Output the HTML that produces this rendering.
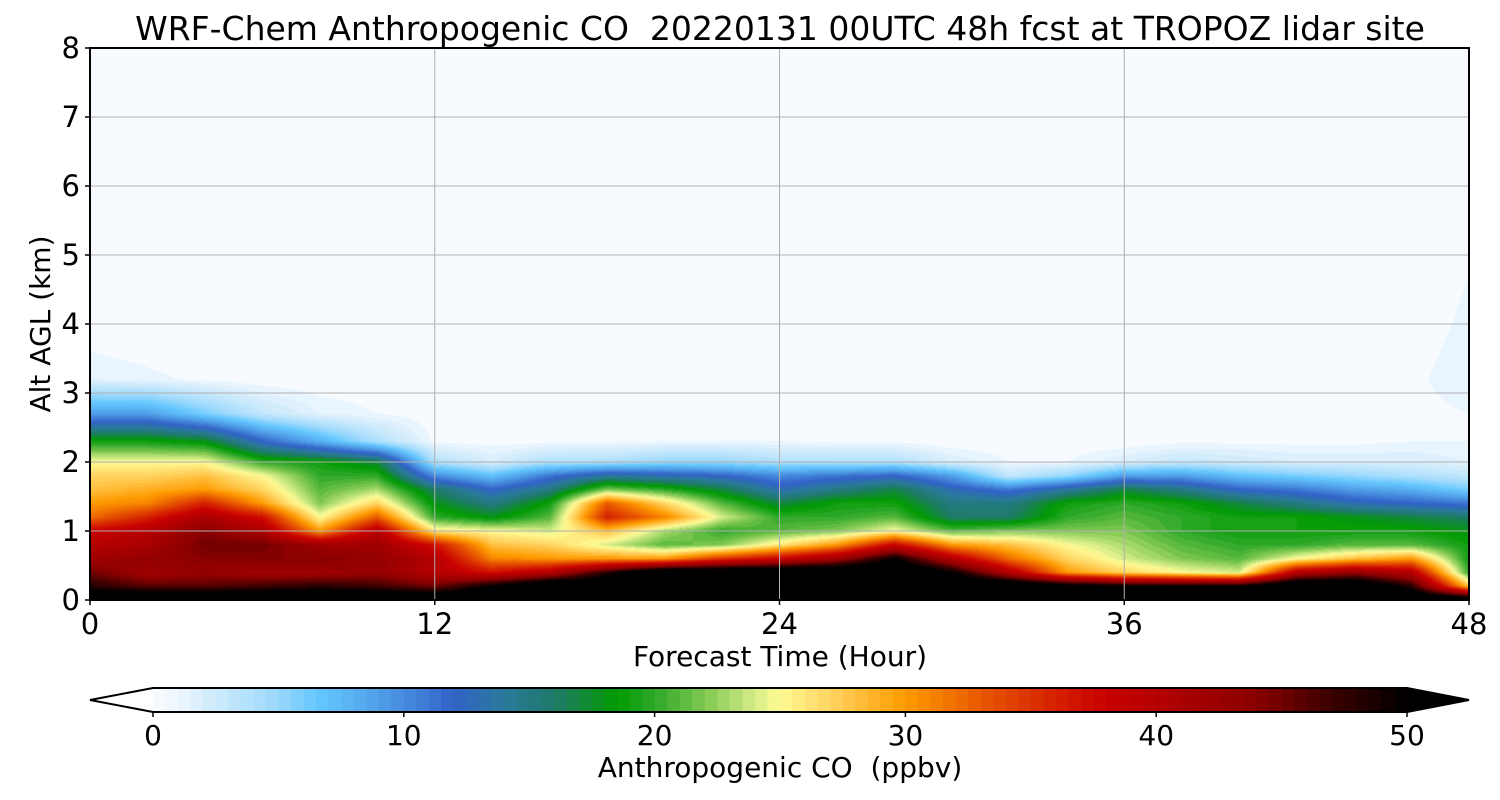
<!DOCTYPE html>
<html><head><meta charset="utf-8">
<style>
html,body{margin:0;padding:0;background:#fff;}
#wrap{position:relative;width:1500px;height:800px;overflow:hidden;font-family:"DejaVu Sans","Liberation Sans",sans-serif;}
#field{position:absolute;left:90px;top:48px;}
#ov{position:absolute;left:0;top:0;}
</style></head>
<body>
<div id="wrap">
<canvas id="field" width="1379" height="552"></canvas>
<svg id="ov" width="1500" height="800"></svg>
</div>
<script>
// ---- data ----
const forecastHours = [0,2,4,6,8,10,12,14,16,18,20,22,24,26,28,30,32,34,36,38,40,42,44,46,48];
const altitudesKm = [0,0.2,0.4,0.6,0.8,1.0,1.2,1.4,1.6,1.8,2.0,2.3,2.7,3.2,4.0,8.0];
// CO (ppbv) per altitude level, one value per forecast hour
const co_00 = [55,55,55,55,55,55,55,55,55,55,55,55,55,55,55,55,55,55,55,55,55,55,55,55,55];
const co_02 = [48,46,46,47,48,47,45,50,55,55,55,55,55,55,55,55,55,52,50,50,50,55,55,48,28];
const co_04 = [45,42,43,42,42,43,40,37,40,48,55,55,55,55,55,50,40,30,27,25,24,40,43,40,20];
const co_06 = [42,43,44,44,44,43,40,31,30,30,30,35,38,42,50,40,32,27,24,22,21,25,28,30,19];
const co_08 = [40,41,45,45,42,42,37,28,27,24,21,22,26,30,38,30,28,25,23,21,20,20,21,21,19];
const co_10 = [38,40,44,41,30,40,26,25,24,28,23,20,21,22,25,21,22,22,22,20,19,19,19,19,18];
const co_12 = [32,36,41,37,25,33,20,18,21,36,31,24,20,20,21,16,16,20,21,20,19,19,18,17,16];
const co_14 = [30,31,36,30,22,27,18,15,19,33,27,21,17,19,19,15,15,19,20,19,17,15,13,12,11];
const co_16 = [28,29,30,27,21,23,16,12,15,22,20,17,13,15,17,13,11,14,17,15,12,11,9,8,6];
const co_18 = [27,27,28,25,20,20,10,7,11,14,13,12,10,11,12,9,3,5,9,9,7,6,5,4,3];
const co_20 = [25,25,25,20,19,17,4,2,4,4,5,5,4,4,4,2,1,1,2,3,2.5,2,2,2,1.5];
const co_23 = [19,19,18,12,8,4,0.8,0.7,0.7,0.8,1,1,1,0.8,0.8,0.5,0.5,0.5,0.5,0.8,0.8,0.8,0.8,1,1];
const co_27 = [9,9,6,3,1.5,1,0.5,0.5,0.5,0.5,0.5,0.5,0.5,0.5,0.5,0.3,0.3,0.3,0.3,0.5,0.5,0.5,0.5,0.7,1];
const co_32 = [1.5,1.2,0.8,0.5,0.5,0.5,0,0,0,0,0,0,0,0,0,0,0,0,0,0,0,0.3,0.5,0.8,1.5];
const co_40 = [0.5,0.3,0,0,0,0,0,0,0,0,0,0,0,0,0,0,0,0,0,0,0,0,0,0.5,1.2];
const co_80 = [0,0,0,0,0,0,0,0,0,0,0,0,0,0,0,0,0,0,0,0,0,0,0,0,0];
const xTicks = [0,12,24,36,48];
const yTicks = [0,1,2,3,4,5,6,7,8];
const cbTicks = [0,10,20,30,40,50];
const field = [co_00,co_02,co_04,co_06,co_08,co_10,co_12,co_14,co_16,co_18,co_20,co_23,co_27,co_32,co_40,co_80];

// ---- colormap ----
const cmapStops=[[0,'#f7fbff'],[1,'#eef7fe'],[2,'#d8eefc'],[5,'#9ad8fc'],[6.5,'#66c8ff'],[9,'#50a0e8'],[12,'#3262c8'],[14,'#2a7a9a'],[16,'#1f7a6a'],[18.5,'#009a00'],[20,'#2ea82a'],[22,'#80c850'],[24,'#d6ec88'],[25,'#fffa94'],[27,'#ffd462'],[30,'#ff9a00'],[33,'#e85800'],[36,'#d42000'],[38,'#c80000'],[41,'#aa0000'],[44,'#8a0000'],[47,'#3a0000'],[50,'#000000']];
function hex(h){return [parseInt(h.substr(1,2),16),parseInt(h.substr(3,2),16),parseInt(h.substr(5,2),16)];}
const stopsRGB=cmapStops.map(s=>[s[0],hex(s[1])]);
function cmap(v){
  if(v>=50) return [0,0,0];
  if(v<=0) return stopsRGB[0][1];
  for(let i=1;i<stopsRGB.length;i++){
    if(v<=stopsRGB[i][0]){
      const a=stopsRGB[i-1],b=stopsRGB[i],f=(v-a[0])/(b[0]-a[0]);
      return [0,1,2].map(k=>Math.round(a[1][k]+(b[1][k]-a[1][k])*f));
    }
  }
  return [0,0,0];
}

// ---- axes ----
const PX0=90,PX1=1469,PY0=600,PY1=48;
const xScale=t=>PX0+(t-0)/48*(PX1-PX0);
const yScale=h=>PY0-(h/8)*(PY0-PY1);

// ---- field render ----
(function(){
  const cv=document.getElementById('field');const ctx=cv.getContext('2d');
  const W=cv.width,H=cv.height;const img=ctx.createImageData(W,H);
  const lut=[];for(let q=0;q<=102;q++){lut.push(cmap(q/2+0.25));}
  function locate(arr,v){let i=0;while(i<arr.length-2&&v>arr[i+1])i++;const f=(v-arr[i])/(arr[i+1]-arr[i]);return [i,Math.max(0,Math.min(1,f))];}
  const colLoc=[];for(let x=0;x<W;x++){const t=(x+0.5)/W*48;colLoc.push(locate(forecastHours,t));}
  for(let y=0;y<H;y++){
    const h=(H-y-0.5)/H*8;const [j,fy]=locate(altitudesKm,h);
    const r0=field[j],r1=field[j+1];
    for(let x=0;x<W;x++){
      const [i,fx]=colLoc[x];
      const v=(r0[i]*(1-fx)+r0[i+1]*fx)*(1-fy)+(r1[i]*(1-fx)+r1[i+1]*fx)*fy;
      let c;
      if(v>=50) c=[0,0,0]; else if(v<1) c=cmap(0); else {const q=Math.floor(v*2);c=lut[Math.min(q,100)];}
      const p=(y*W+x)*4;img.data[p]=c[0];img.data[p+1]=c[1];img.data[p+2]=c[2];img.data[p+3]=255;
    }
  }
  ctx.putImageData(img,0,0);
})();

// ---- overlay ----
const svg=document.getElementById('ov');const NS='http://www.w3.org/2000/svg';
function mk(tag,attrs,parent){const e=document.createElementNS(NS,tag);for(const k in attrs)e.setAttribute(k,attrs[k]);(parent||svg).appendChild(e);return e;}
function txt(s,attrs){const e=mk('text',Object.assign({'font-family':'DejaVu Sans, Liberation Sans, sans-serif',fill:'#000'},attrs));e.textContent=s;return e;}

xTicks.forEach(t=>{if(t>0&&t<48){const l=mk('line',{x1:xScale(t),x2:xScale(t),y1:PY1,y2:PY0,stroke:'#b0b0b0','stroke-width':1});

}});
yTicks.forEach(h=>{if(h>0&&h<8){const l=mk('line',{x1:PX0,x2:PX1,y1:yScale(h),y2:yScale(h),stroke:'#b0b0b0','stroke-width':1});

}});
const fr=mk('rect',{x:PX0,y:PY1,width:PX1-PX0,height:PY0-PY1,fill:'none',stroke:'#000','stroke-width':2});


xTicks.forEach(t=>{mk('line',{x1:xScale(t),x2:xScale(t),y1:PY0,y2:PY0+5,stroke:'#000','stroke-width':1.5});
const e=txt(String(t),{x:xScale(t),y:634,'font-size':29,'text-anchor':'middle'});

});
yTicks.forEach(h=>{mk('line',{x1:PX0-5,x2:PX0,y1:yScale(h),y2:yScale(h),stroke:'#000','stroke-width':1.5});
const e=txt(String(h),{x:80,y:yScale(h)+10,'font-size':29,'text-anchor':'end'});

});
const ti=txt('WRF-Chem Anthropogenic CO\u00a0\u00a020220131 00UTC 48h fcst at TROPOZ lidar site',{x:780,y:40,'font-size':33,'text-anchor':'middle'});


const xl=txt('Forecast Time (Hour)',{x:780,y:666,'font-size':28,'text-anchor':'middle'});


const yl=txt('Alt AGL (km)',{x:0,y:0,'font-size':28,'text-anchor':'middle',transform:'translate(50,324) rotate(-90)'});



const CB0=153,CB1=1407,CBY=688,CBH=24;
const cbX=v=>CB0+v/50*(CB1-CB0);
const cbg=mk('g',{});


const lowTri=mk('polygon',{points:`${cbX(0)},${CBY} 90,${CBY+CBH/2} ${cbX(0)},${CBY+CBH}`,fill:'#ffffff'},cbg);


for(let q=0;q<100;q++){
  const c=cmap(q/2+0.25);const v0=q/2;
  const r=mk('rect',{x:cbX(v0),y:CBY,width:cbX(v0+0.5)-cbX(v0)+0.6,height:CBH,fill:`rgb(${c[0]},${c[1]},${c[2]})`},cbg);
  
  
}
const hiTri=mk('polygon',{points:`${cbX(50)},${CBY} 1469,${CBY+CBH/2} ${cbX(50)},${CBY+CBH}`,fill:'#000'},cbg);


mk('polygon',{points:`90,${CBY+CBH/2} ${cbX(0)},${CBY} ${cbX(50)},${CBY} 1469,${CBY+CBH/2} ${cbX(50)},${CBY+CBH} ${cbX(0)},${CBY+CBH}`,fill:'none',stroke:'#000','stroke-width':2},cbg);
cbTicks.forEach(v=>{mk('line',{x1:cbX(v),x2:cbX(v),y1:CBY+CBH,y2:CBY+CBH+5,stroke:'#000','stroke-width':1.5},cbg);
const e=txt(String(v),{x:cbX(v),y:745,'font-size':28,'text-anchor':'middle'});

});
const cl=txt('Anthropogenic CO\u00a0\u00a0(ppbv)',{x:780,y:777,'font-size':28,'text-anchor':'middle'});


</script>
</body></html>
